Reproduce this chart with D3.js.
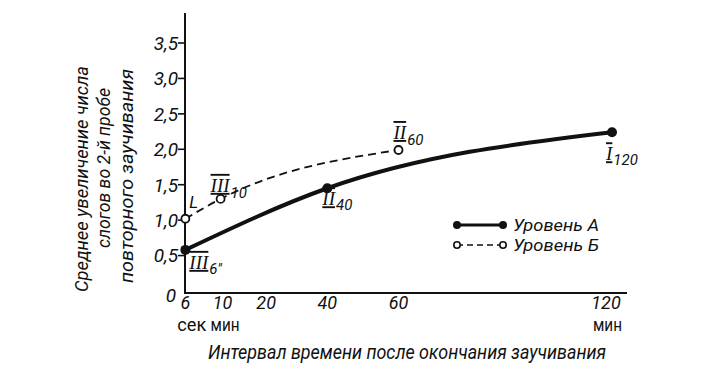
<!DOCTYPE html>
<html><head><meta charset="utf-8">
<script src="https://cdn.jsdelivr.net/npm/d3@7"></script>
<style>
body{margin:0;background:#fff;}
svg{display:block;}
text{fill:#111;}
</style></head>
<body>
<script>
// ---- data ----
const xTickValues = [0.1, 10, 20, 40, 60, 120];
const xTickLabels = ["6", "10", "20", "40", "60", "120"];
const xTickUnits  = ["сек", "мин", "", "", "", "мин"];
const yTickValues = [0, 0.5, 1.0, 1.5, 2.0, 2.5, 3.0, 3.5];
const yTickLabels = ["0", "0,5", "1,0", "1,5", "2,0", "2,5", "3,0", "3,5"];
const levelA_x = [0.1, 40, 120];
const levelA_y = [0.58, 1.45, 2.24];
const levelB_x = [0.1, 10, 60];
const levelB_y = [1.02, 1.30, 1.99];
const pointLabelsMain = ["III", "II", "I"];
const pointLabelsSubA = ["6''", "40", "120"];
const pointLabelsB = ["L", "III", "II"];
const pointLabelsSubB = ["", "10", "60"];
const legendLabels = ["Уровень А", "Уровень Б"];
const yTitleLines = ["Среднее увеличение числа", "слогов во 2-й пробе", "повторного заучивания"];
const xTitle = "Интервал времени после окончания заучивания";

const W = 712, H = 381;
const svg = d3.select("body").append("svg").attr("width", W).attr("height", H);
const narrow = "Roboto,'Liberation Sans',sans-serif";
const serif = "'Liberation Serif','DejaVu Serif',serif";

const x = d3.scaleLinear().domain([0, 120]).range([185, 612]);
const y = d3.scaleLinear().domain([0, 3.5]).range([291, 43]);

// axes
svg.append("line").attr("x1", 185).attr("x2", 185).attr("y1", 13).attr("y2", 293)
  .attr("stroke", "#111").attr("stroke-width", 2);
svg.append("line").attr("x1", 184).attr("x2", 627).attr("y1", 293).attr("y2", 293)
  .attr("stroke", "#111").attr("stroke-width", 2);

// y ticks
const yAxis = svg.append("g");
yTickValues.forEach((v, i) => {
  if (v > 0) yAxis.append("line").attr("x1", 178).attr("x2", 185).attr("y1", y(v)).attr("y2", y(v))
    .attr("stroke", "#111").attr("stroke-width", 1.6);
  yAxis.append("text").attr("x", v === 0 ? 176 : 178).attr("y", y(v) + (v === 0 ? 4 : 0))
    .attr("dy", "0.36em").attr("text-anchor", "end")
    .style("font-family", narrow).style("font-style", "italic").style("font-size", "19px")
    .text(yTickLabels[i]);
});

// x ticks
const xNudge = [0, 2, 10, 0, 0, -6];
const unitNudge = [7, 5, 0, 0, 0, -4];
const xAxis = svg.append("g");
xTickValues.forEach((v, i) => {
  xAxis.append("text").attr("x", x(v) + xNudge[i]).attr("y", 309)
    .attr("text-anchor", "middle")
    .style("font-family", narrow).style("font-style", "italic").style("font-size", "18px")
    .text(xTickLabels[i]);
  if (xTickUnits[i]) xAxis.append("text").attr("x", x(v) + unitNudge[i] - 15).attr("y", 331)
    .attr("textLength", 29).attr("lengthAdjust", "spacingAndGlyphs")
    .style("font-family", narrow).style("font-size", "18px")
    .text(xTickUnits[i]);
});

// titles
svg.append("text").attr("x", 208).attr("y", 359)
  .attr("textLength", 398).attr("lengthAdjust", "spacingAndGlyphs")
  .style("font-family", narrow).style("font-style", "italic").style("font-size", "20px")
  .text(xTitle);
const yTitleX = [88, 110, 133];
const yTitleLen = [226, 160, 214];
const yTitleC = [179, 168, 176];
yTitleLines.forEach((t, i) => {
  svg.append("text").attr("transform", `translate(${yTitleX[i]},${yTitleC[i]}) rotate(-90)`)
    .attr("text-anchor", "middle")
    .attr("textLength", yTitleLen[i]).attr("lengthAdjust", "spacingAndGlyphs")
    .style("font-family", narrow).style("font-style", "italic").style("font-size", "19px")
    .text(t);
});

// lines
const A = levelA_x.map((d, i) => [d, levelA_y[i]]);
const B = levelB_x.map((d, i) => [d, levelB_y[i]]);
const line = d3.line().x(d => x(d[0])).y(d => y(d[1])).curve(d3.curveMonotoneX);
svg.append("path").attr("d", line(A)).attr("fill", "none").attr("stroke", "#111").attr("stroke-width", 4);
svg.append("path").attr("d", line(B)).attr("fill", "none").attr("stroke", "#111").attr("stroke-width", 1.8)
  .attr("stroke-dasharray", "8,5");
svg.selectAll("circle.a").data(A).enter().append("circle").attr("class", "a")
  .attr("cx", d => x(d[0])).attr("cy", d => y(d[1])).attr("r", 5).attr("fill", "#111");
svg.selectAll("circle.b").data(B).enter().append("circle").attr("class", "b")
  .attr("cx", d => x(d[0])).attr("cy", d => y(d[1])).attr("r", 4).attr("fill", "#fff")
  .attr("stroke", "#111").attr("stroke-width", 1.8);

// point labels
function roman(px, py, main, sub, subDx, subDy) {
  const t = svg.append("text").attr("x", px).attr("y", py)
    .style("font-family", serif).style("font-size", "19px");
  const m = t.append("tspan").text(main);
  if (main !== "L") m.style("text-decoration", "overline underline").style("font-style", "italic");
  else m.style("font-family", narrow).style("font-style", "italic").style("font-size", "17px");
  if (sub) t.append("tspan").attr("dx", subDx).attr("dy", subDy)
    .style("font-family", narrow).style("font-style", "italic").style("font-size", "15px").style("text-decoration", "none").text(sub);
}
const offA = [[4, 19], [-5, 17], [-6, 28]];
const offB = [[4, -11], [-10, -7], [-5, -11]];
A.forEach((d, i) => roman(x(d[0]) + offA[i][0], y(d[1]) + offA[i][1], pointLabelsMain[i], pointLabelsSubA[i], 1, 5));
B.forEach((d, i) => roman(x(d[0]) + offB[i][0], y(d[1]) + offB[i][1], pointLabelsB[i], pointLabelsSubB[i], 1, 6));

// legend
const legY = [225, 245];
legendLabels.forEach((l, i) => {
  const g = svg.append("g");
  g.append("line").attr("x1", 457).attr("x2", 503).attr("y1", legY[i]).attr("y2", legY[i])
    .attr("stroke", "#111").attr("stroke-width", i === 0 ? 3 : 1.6)
    .attr("stroke-dasharray", i === 0 ? null : "6,4");
  [457, 503].forEach(cx => {
    g.append("circle").attr("cx", cx).attr("cy", legY[i]).attr("r", i === 0 ? 4 : 3.2)
      .attr("fill", i === 0 ? "#111" : "#fff").attr("stroke", "#111").attr("stroke-width", i === 0 ? 0 : 1.6);
  });
  g.append("text").attr("x", 513).attr("y", legY[i]).attr("dy", "0.35em")
    .attr("textLength", 86).attr("lengthAdjust", "spacingAndGlyphs")
    .style("font-family", narrow).style("font-style", "italic").style("font-size", "17px")
    .text(l);
});
</script>
</body></html>
